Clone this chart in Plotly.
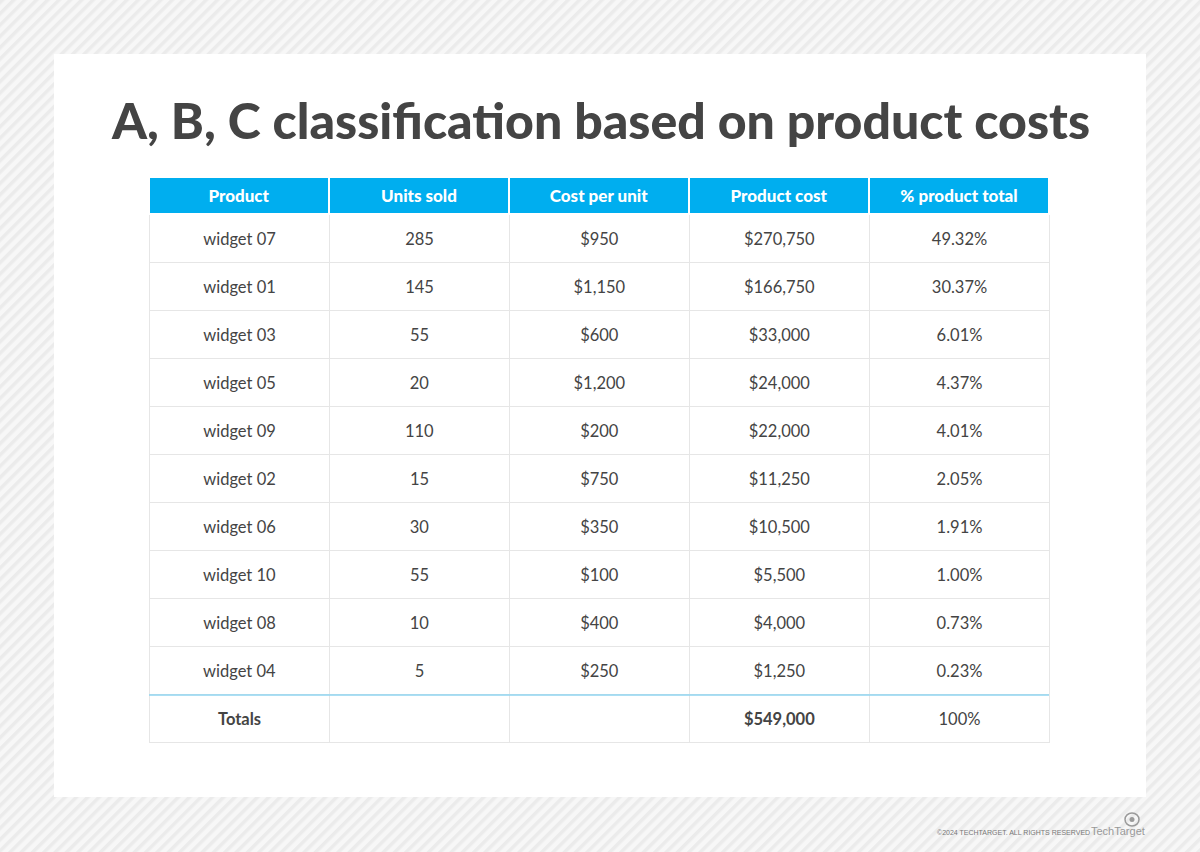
import base64
import plotly.graph_objects as go

W, H = 1200, 852

products = ['widget 07', 'widget 01', 'widget 03', 'widget 05', 'widget 09',
            'widget 02', 'widget 06', 'widget 10', 'widget 08', 'widget 04']
units_sold = [285, 145, 55, 20, 110, 15, 30, 55, 10, 5]
cost_per_unit = [950, 1150, 600, 1200, 200, 750, 350, 100, 400, 250]
product_cost = [270750, 166750, 33000, 24000, 22000, 11250, 10500, 5500, 4000, 1250]
pct_total = [49.32, 30.37, 6.01, 4.37, 4.01, 2.05, 1.91, 1.00, 0.73, 0.23]
total_cost = 549000
total_pct = 100

headers = ['Product', 'Units sold', 'Cost per unit', 'Product cost', '% product total']

# plotly tables pin the top of the text box to the top of a cell; a raised
# hair space makes that box taller so the real text sits mid-row.
# the trailing <br> keeps the table from re-wrapping the markup
LIFT = '<span style="baseline-shift:7px">\u200a</span>'


def cell(s):
    return LIFT + str(s) + '<br>'


col_product = [cell(p) for p in products] + [cell('<b>Totals</b>')]
col_units = [cell(u) for u in units_sold] + ['']
col_cpu = [cell(f'${c:,}') for c in cost_per_unit] + ['']
col_cost = [cell(f'${c:,}') for c in product_cost] + [cell(f'<b>${total_cost:,}</b>')]
col_pct = [cell(f'{p:.2f}%') for p in pct_total] + [cell(f'{total_pct}%')]


def px(x):
    return x / W


def py(y):
    return 1 - y / H


# striped backdrop as an inline svg
stripes = (
    "<svg xmlns='http://www.w3.org/2000/svg' width='1200' height='852'>"
    "<defs><pattern id='p' width='8' height='8' patternUnits='userSpaceOnUse' "
    "patternTransform='rotate(45)'>"
    "<rect width='8' height='8' fill='#f7f7f7'/>"
    "<rect width='3.5' height='8' fill='#ebebeb'/></pattern></defs>"
    "<rect width='1200' height='852' fill='url(#p)'/></svg>"
)
bg_src = 'data:image/svg+xml;base64,' + base64.b64encode(stripes.encode()).decode()

fig = go.Figure()
fig.add_trace(go.Table(
    domain=dict(x=[px(149), px(1049)], y=[py(746), py(177)]),
    columnwidth=[1, 1, 1, 1, 1],
    header=dict(
        values=[h + '<br>' for h in headers],
        fill_color='#00aeef',
        line=dict(color='white', width=2),
        font=dict(family='Lato', size=17, color='white', weight=900),
        align='center',
        height=37,
    ),
    cells=dict(
        values=[col_product, col_units, col_cpu, col_cost, col_pct],
        fill_color='white',
        line=dict(color='#e6e6e6', width=1),
        font=dict(family='Lato', size=16.5, color='#444444'),
        align='center',
        height=48,
    ),
))

fig.update_layout(
    width=W, height=H,
    margin=dict(l=0, r=0, t=0, b=0),
    paper_bgcolor='#f4f4f4',
    images=[dict(source=bg_src, xref='paper', yref='paper', x=0, y=1,
                 sizex=1, sizey=1, xanchor='left', yanchor='top',
                 sizing='stretch', layer='below')],
    shapes=[
        dict(type='rect', xref='paper', yref='paper',
             x0=px(54), x1=px(1146), y0=py(797), y1=py(54),
             fillcolor='white', line=dict(width=0), layer='below'),
        dict(type='line', xref='paper', yref='paper',
             x0=px(149), x1=px(1049), y0=py(695), y1=py(695),
             line=dict(color='#8fd4f0', width=1.5), layer='above'),
        # eye logo
        dict(type='circle', xref='paper', yref='paper',
             x0=px(1125), x1=px(1139), y0=py(826), y1=py(813),
             line=dict(color='#9a9a9a', width=1.5)),
        dict(type='circle', xref='paper', yref='paper',
             x0=px(1129.5), x1=px(1134.5), y0=py(822), y1=py(817),
             fillcolor='#9a9a9a', line=dict(width=0)),
    ],
    annotations=[
        dict(text='A, B, C classification based on product costs',
             xref='paper', yref='paper', x=0.5, y=py(120),
             xanchor='center', yanchor='middle', showarrow=False,
             font=dict(family='Lato', size=50, color='#444444', weight=900)),
        dict(text='©2024 TECHTARGET. ALL RIGHTS RESERVED',
             xref='paper', yref='paper', x=px(1092), y=py(832),
             xanchor='right', yanchor='middle', showarrow=False,
             font=dict(family='Liberation Sans', size=7, color='#777777')),
        dict(text='TechTarget',
             xref='paper', yref='paper', x=px(1147), y=py(831),
             xanchor='right', yanchor='middle', showarrow=False,
             font=dict(family='Liberation Sans', size=11, color='#999999')),
    ],
)

fig.write_html('out.html', config={'displayModeBar': False},
               post_script="document.body.style.margin='0';")
